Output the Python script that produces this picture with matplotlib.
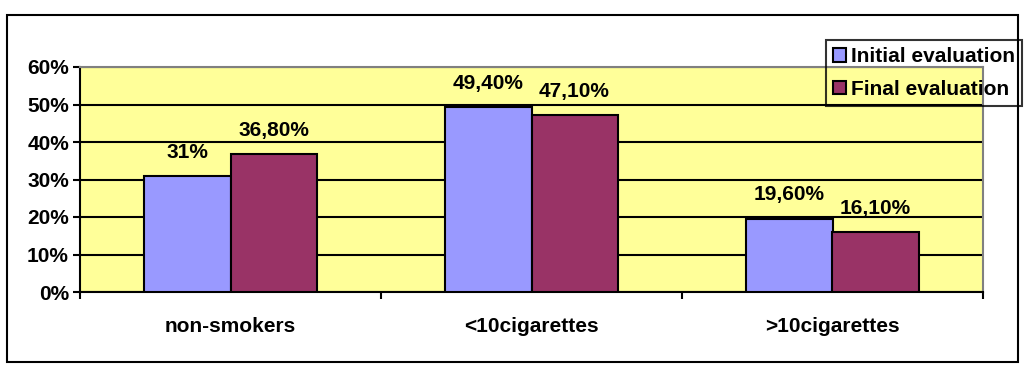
import matplotlib.pyplot as plt
import numpy as np
from matplotlib.patches import Rectangle

categories = ['non-smokers', '<10cigarettes', '>10cigarettes']
initial = [31.0, 49.4, 19.6]
final = [36.8, 47.1, 16.1]
initial_labels = ['31%', '49,40%', '19,60%']
final_labels = ['36,80%', '47,10%', '16,10%']
series_names = ['Initial evaluation', 'Final evaluation']

plt.rcParams['font.family'] = ['Liberation Sans', 'DejaVu Sans']
plt.rcParams['font.weight'] = 'bold'
fs = 15

fig = plt.figure(figsize=(10.25, 3.69), dpi=100)
# outer chart border
fig.patches.append(Rectangle((7 / 1025, 7 / 369), 1011 / 1025, 347 / 369,
                             transform=fig.transFigure, fill=False,
                             edgecolor='black', linewidth=1.5))

ax = fig.add_axes([80 / 1025, 1 - 292 / 369, 903 / 1025, 225 / 369])
ax.set_facecolor('#FFFF99')

x = np.arange(len(categories))
w = 0.286
b1 = ax.bar(x - w / 2, initial, w, color='#9999FF', edgecolor='black',
            linewidth=1.5, label=series_names[0], zorder=3)
b2 = ax.bar(x + w / 2, final, w, color='#993366', edgecolor='black',
            linewidth=1.5, label=series_names[1], zorder=3)

for bars, labels in ((b1, initial_labels), (b2, final_labels)):
    for bar, lab in zip(bars, labels):
        ax.annotate(lab, (bar.get_x() + bar.get_width() / 2, bar.get_height()),
                    xytext=(0, 13), textcoords='offset points',
                    ha='center', va='baseline', fontsize=fs, fontweight='bold')

ax.set_xlim(-0.5, 2.5)
ax.set_ylim(0, 60)
ax.set_yticks(range(0, 61, 10))
ax.set_yticklabels([f'{v}%' for v in range(0, 61, 10)], fontsize=fs, fontweight='bold')
ax.yaxis.grid(True, color='black', linewidth=1.5, zorder=1)
ax.set_axisbelow(True)

ax.set_xticks([-0.5, 0.5, 1.5, 2.5])
ax.set_xticklabels([])
ax.set_xticks(x, minor=True)
ax.set_xticklabels(categories, minor=True, fontsize=fs, fontweight='bold')
ax.tick_params(axis='x', which='minor', length=0, pad=18)
ax.tick_params(axis='x', which='major', length=5, width=1.5, color='black')
ax.tick_params(axis='y', length=5, width=1.5, pad=3)

for s in ('top', 'right'):
    ax.spines[s].set_color('#808080')
    ax.spines[s].set_linewidth(1.5)
for s in ('left', 'bottom'):
    ax.spines[s].set_color('black')
    ax.spines[s].set_linewidth(1.5)

leg = fig.legend(handles=[b1, b2], loc='upper right',
                 bbox_to_anchor=(1022 / 1025, 1 - 40 / 369),
                 prop={'size': fs, 'weight': 'bold'}, frameon=True,
                 fancybox=False, edgecolor='black', handlelength=0.6,
                 handleheight=0.6, handletextpad=0.25, borderpad=0.35,
                 labelspacing=0.65, borderaxespad=0)
leg.get_frame().set_linewidth(1.5)
leg.get_frame().set_facecolor('none')

plt.savefig('out.png', dpi=100)
